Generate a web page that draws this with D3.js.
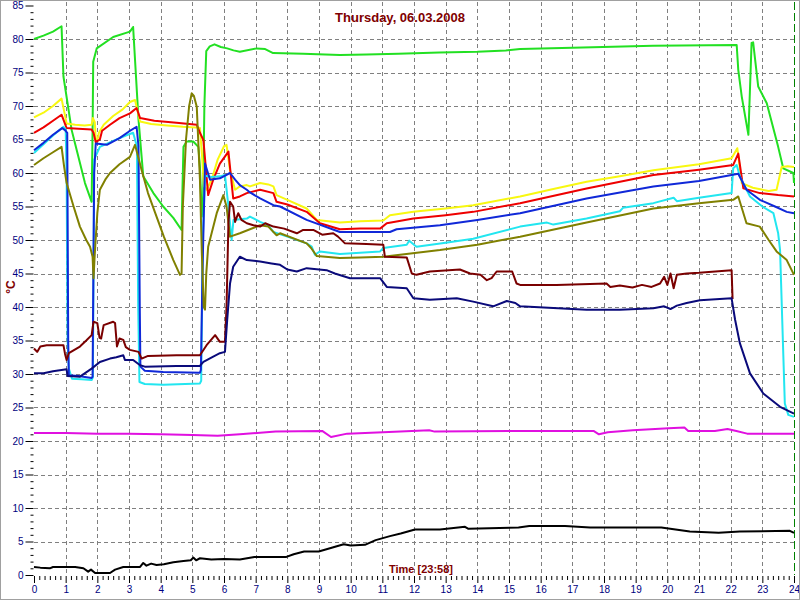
<!DOCTYPE html>
<html><head><meta charset="utf-8">
<script src="https://cdn.jsdelivr.net/npm/d3@7"></script>
<style>
html,body{margin:0;padding:0;background:#fff;}
svg{display:block;}
text{font-family:"Liberation Sans",Arial,sans-serif;}
</style></head>
<body><svg id="c" width="800" height="600"></svg>
<script>
// ---- data (hours, °C) ----
const titleText = "Thursday, 06.03.2008";
const xLabel = "Time [23:58]";
const yLabel = "°C";
const xTicks = d3.range(0, 25);
const yTicks = d3.range(0, 90, 5);

const greenT = [0,0.3,0.6,0.87,0.93,1.19,1.35,1.61,1.82,1.85,1.87,1.98,2.5,3.03,3.13,3.3,3.45,3.77,4.08,4.4,4.66,4.69,4.72,4.82,5.03,5.19,5.24,5.3,5.34,5.38,5.44,5.55,5.7,5.9,6.1,6.3,6.5,7.03,7.3,7.55,8.5,9.66,10.5,11.5,12.8,14,14.9,15.35,17,19.55,22.19,22.24,22.35,22.56,22.66,22.71,22.87,23.14,23.5,23.66,23.98,24];
const greenV = [80,80.5,81.1,81.9,74.4,66.4,63.4,58.5,55.7,66.4,76.6,78.6,80.3,81.1,81.8,68,59.5,57,55,53.3,51.5,58,63.9,64.7,64.7,63.9,60.9,53.5,56,70,78.2,78.9,79.2,78.8,78.6,78.3,78.1,78.6,78.5,77.9,77.8,77.6,77.7,77.8,78.0,78.1,78.3,78.5,78.7,79,79.1,75.4,71.4,65.7,79.4,79.5,72.9,70.4,63.9,60.7,60,58.5];

const yellowT = [0,0.3,0.6,0.87,1.03,1.3,1.6,1.82,1.86,1.92,1.95,2.0,2.05,2.2,2.5,2.8,3.03,3.19,3.35,3.7,4.2,4.7,5.1,5.24,5.3,5.37,5.45,5.61,5.8,6.0,6.08,6.19,6.35,6.5,6.72,6.82,7.14,7.4,7.56,7.66,8.0,8.61,8.93,9.66,10.3,11.03,11.24,11.98,13,13.87,15.35,16.4,17.45,18.5,19.56,21,22.03,22.21,22.35,22.7,23.2,23.45,23.61,23.8,24];
const yellowV = [68.3,69,70,71.1,67.4,67.2,67.1,67.2,68.2,67.6,65,64.8,66,67.2,68.5,69.5,70.6,70.9,67.7,67.3,67.1,66.9,66.8,66.7,63,58,57.5,59,62,64,64.2,60.4,57.5,58,58.2,58,58.5,58.3,58,56.7,56,54.7,53,52.6,52.8,52.9,53.7,54.2,54.7,55.2,56.5,57.6,58.7,59.5,60.4,61.3,62.2,63.7,58.5,57.8,57.3,57.5,60.9,61,60.9];

const redT = [0,0.3,0.6,0.87,1.03,1.4,1.82,1.88,1.95,2.08,2.15,2.4,2.7,3.03,3.24,3.35,3.8,4.5,5.14,5.24,5.35,5.5,5.66,5.87,6.14,6.29,6.5,6.72,7.14,7.56,7.66,8.0,8.61,9.03,9.66,10.3,10.93,11.14,11.98,13,13.87,15.35,17.45,19.56,21,22.08,22.24,22.4,22.92,23.5,24];
const redV = [66,66.8,67.8,68.7,66.7,66.6,66.5,66,64.6,65,66.3,67.2,68.2,68.9,69.7,68.2,67.8,67.5,67.2,66,64.9,56.7,59,61.4,63.2,56.2,56.5,57,57.5,57,55.7,55.3,54.2,52.5,51.6,51.7,51.7,52.5,53.2,53.7,54.2,55.5,57.7,59.7,60.5,61.2,62.9,57.7,57,56.7,56.5];

const cyanT = [0,0.3,0.6,0.93,1.0,1.03,1.06,1.1,1.2,1.5,1.82,1.86,1.9,2.08,2.5,2.9,3.13,3.25,3.29,3.33,3.5,4.08,5.24,5.28,5.33,5.4,5.6,5.87,6.03,6.14,6.24,6.3,6.72,6.82,7.14,7.4,7.56,8.0,8.61,8.77,8.87,9.03,9.66,10.3,10.93,11.03,11.77,11.85,12.0,12.08,13,13.87,15.35,16.2,16.4,17.45,18.5,18.6,19.56,20.2,20.3,21,22.03,22.08,22.19,22.29,22.61,23.0,23.35,23.5,23.56,23.71,23.82,24];
const cyanV = [63,64.3,65.6,66.9,66.5,60,35,30.8,29.3,29.2,29.1,29.5,62,63.9,64.8,65.6,66,64,40,28.8,28.5,28.4,28.6,29,50,59.6,59.4,59.5,59.7,55,50,53,53.2,53.5,52.7,52.2,51.2,50.5,49.5,49,47.8,48.3,47.9,48.1,48.3,48.8,49.3,49.9,49.3,49,49.6,50.2,52,52.6,52.3,53.2,54.3,54.8,55.5,56.3,55.8,56.3,57,60.7,61.2,59.5,56.5,55,54,51,48.5,25.6,23.9,23.6];

const blueT = [0,0.3,0.6,0.89,0.98,1.05,1.08,1.1,1.4,1.82,1.85,1.9,1.95,2.3,2.7,3.0,3.24,3.3,3.34,3.36,3.5,4.08,5.24,5.27,5.32,5.4,5.56,5.87,6.19,6.35,6.5,6.72,6.82,7.14,7.56,7.77,8.61,9.66,10.5,11.24,11.45,12.82,14,15.35,17.45,19.56,21,22.24,22.5,22.92,23.4,23.77,24];
const blueV = [63.4,64.5,65.7,66.7,66.4,66,35,29.8,29.7,29.4,29.6,60,64.4,64.2,65.2,66.2,66.9,64,40,31.1,30.5,30.3,30.2,30.6,45,61.4,59,59.2,60,59,58.2,57.5,57.1,56.2,55.2,55,53,51.2,51.2,51.2,51.6,52.2,53,54,56.2,58,58.8,59.9,57.5,56,55,54.2,54];

const oliveT = [0,0.3,0.6,0.87,0.95,1.03,1.25,1.45,1.65,1.77,1.85,1.88,1.92,2.0,2.08,2.25,2.4,2.7,3.03,3.19,3.4,3.6,3.87,4.1,4.4,4.61,4.66,4.7,4.8,4.9,4.98,5.05,5.14,5.24,5.3,5.36,5.4,5.44,5.5,5.77,5.98,6.08,6.19,6.5,7.14,7.4,7.66,7.77,8.61,8.75,8.93,9.66,10.3,11.03,12.82,14,15.35,17.45,19.56,21,22.08,22.24,22.5,22.92,23.2,23.45,23.77,24];
const oliveV = [61.2,62.2,63.1,63.9,61,58.5,55,52,50,49,47.5,44.3,48,54,57.5,59,60,61.3,62.4,64.2,60.4,57,53.5,50.5,47,44.8,45,55,65,70,71.9,71.5,69.9,59,48,40,39.6,45,49,54,56.7,55,50.5,51,52.2,52,50.7,51,49.5,48.8,47.6,47.3,47.4,47.5,48.5,49.3,50.5,52.6,54.7,55.5,56,56.5,52.5,52,50,48.3,47,44.8];

const maroonT = [0,0.1,0.2,0.4,0.93,0.98,1.03,1.1,1.45,1.65,1.82,1.88,2.0,2.07,2.12,2.2,2.5,2.56,2.62,2.7,2.82,2.9,3.03,3.3,3.4,3.6,4.5,5.24,5.45,5.72,5.87,6.03,6.08,6.14,6.19,6.29,6.35,6.45,6.55,6.72,6.93,7.14,7.3,7.56,7.9,8.3,8.5,8.82,9.1,9.45,9.6,9.82,10.5,11.03,11.08,11.77,11.93,12.08,12.5,13.45,13.77,14.1,14.3,14.45,14.61,15.1,15.24,15.35,16.5,18.08,18.2,18.5,18.9,19.2,19.5,19.77,19.9,20.0,20.1,20.2,20.3,20.61,21.0,22.03,22.06];
const maroonV = [33.8,33.3,34.1,34.3,34.3,33,32.1,33.1,34.1,35,35.8,37.8,37.6,35.4,35.3,37.3,37.8,37.6,34.1,35.3,35.1,34,33.6,33.3,32.3,32.7,32.8,32.8,34.3,35.8,34.8,34.8,40,52.5,55.7,55,52.7,54,53,52.5,52.2,52,52.5,52,51.7,51,51.5,51.5,50.8,51,50.5,49.5,49.4,49.3,47.5,47.4,45,44.8,45.3,45.6,45,44.8,44,44.3,45.3,45.3,43.5,43.3,43.3,43.5,43,43.2,42.9,43.3,43,43.5,44.5,43.3,45,42.8,44.8,45,45.1,45.5,41.2];

const navyT = [0,0.3,0.6,1.03,1.06,1.45,1.82,2.08,2.4,2.6,2.82,2.87,3.13,3.35,3.5,4.5,5.24,5.35,5.66,5.87,6.03,6.1,6.19,6.29,6.5,6.72,7.14,7.5,7.77,8.0,8.3,8.61,9.24,9.5,9.98,10.93,11.14,11.77,11.98,12.5,13.35,13.87,14.5,14.93,15.2,15.35,17.45,18.5,19.56,19.9,20.1,20.3,20.61,21.03,22.03,22.14,22.29,22.61,23.03,23.56,24];
const navyV = [30.1,30.1,30.4,30.7,29.7,29.6,30.8,31.8,32.3,32.5,32.8,32.1,32.1,31.3,31.1,31.2,31.2,31.8,32.6,33.1,33.3,38,43.5,46,47.5,47,46.8,46.5,46.3,45.6,45.3,45.8,45.5,45,44.3,44.3,43,42.8,41.3,41.1,41.3,40.8,40.1,40.9,40.6,40.1,39.6,39.6,39.8,40.1,39.7,40.2,40.6,41,41.3,38.1,34.6,30.1,27.1,25.1,24.1];

const magentaT = [0,1,2,3,4,5,5.8,6.5,7.63,9.1,9.38,9.89,11.02,12.48,12.65,15,17.67,17.84,18.12,18.91,20.04,20.54,20.66,21.5,21.9,22.18,22.52,24];
const magentaV = [21.2,21.2,21.1,21.1,21,20.9,20.8,21,21.4,21.5,20.6,21.1,21.3,21.6,21.4,21.5,21.5,21,21.3,21.6,21.9,22,21.5,21.5,21.8,21.5,21.1,21.1];

const blackT = [0,0.2,0.5,0.6,1.03,1.3,1.56,1.71,1.8,1.93,2.4,2.56,2.82,3.35,3.45,3.55,3.7,3.87,4.1,4.4,4.72,4.95,5.03,5.12,5.24,5.6,6.0,6.5,6.96,7.97,8.2,8.53,8.99,9.21,9.78,10,10.45,10.79,11.24,11.58,12.03,12.82,13.61,13.72,15.3,15.64,16.77,17.56,19.81,20.71,21.62,22.29,23.87,24];
const blackV = [1.2,1.1,1.0,1.2,1.2,1.2,1.0,0.5,0.8,0.3,0.3,0.8,1.2,1.2,1.8,1.4,1.7,1.5,1.6,1.9,2.1,2.2,2.6,2.2,2.5,2.3,2.4,2.3,2.7,2.7,3.1,3.5,3.5,3.8,4.6,4.4,4.5,5.2,5.8,6.2,6.8,6.8,7.2,6.9,7.1,7.3,7.3,7.1,7.1,6.5,6.3,6.5,6.6,6.3];

const seriesT = [greenT, yellowT, redT, cyanT, blueT, oliveT, maroonT, navyT, magentaT, blackT];
const seriesV = [greenV, yellowV, redV, cyanV, blueV, oliveV, maroonV, navyV, magentaV, blackV];
const seriesColors = ["#22e022","#f8f810","#ee0000","#22e6f0","#1028d8","#808000","#7a0000","#0a0a7a","#e010e0","#000000"];

// ---- drawing ----
const svg = d3.select("#c");
const x = d3.scaleLinear().domain([0,24]).range([34,794]);
const y = d3.scaleLinear().domain([0,85]).range([575,5.5]);

svg.append("rect").attr("x",0).attr("y",0).attr("width",800).attr("height",600).attr("fill","#fff");

// grid
svg.append("g").selectAll("line").data(yTicks.filter(v=>v>0 && v<85)).join("line")
  .attr("x1",x(0)).attr("x2",x(24)).attr("y1",d=>Math.round(y(d))+0.5).attr("y2",d=>Math.round(y(d))+0.5)
  .attr("stroke","#808080").attr("stroke-dasharray","4,3");
svg.append("g").selectAll("line").data(xTicks.filter(v=>v>0 && v<24)).join("line")
  .attr("x1",d=>Math.round(x(d))+0.5).attr("x2",d=>Math.round(x(d))+0.5).attr("y1",2).attr("y2",y(0))
  .attr("stroke","#808080").attr("stroke-dasharray","4,3");
svg.append("line").attr("x1",Math.round(x(24))+0.5).attr("x2",Math.round(x(24))+0.5).attr("y1",2).attr("y2",y(0))
  .attr("stroke","#008000").attr("stroke-dasharray","8,3");

// axes
const yAxisMajor = d3.axisLeft(y).tickValues(yTicks).tickSize(8).tickPadding(2);
const gy = svg.append("g").attr("transform","translate(33.5,0)").call(yAxisMajor);
gy.select(".domain").remove();
gy.selectAll("line").attr("stroke","#000");
gy.selectAll("text").attr("fill","#000080").attr("font-size","10px").attr("font-family","Liberation Sans, Arial, sans-serif");
const gy2 = svg.append("g").attr("transform","translate(33.5,0)").call(d3.axisLeft(y).tickValues(d3.range(0,86,1).filter(v=>v%5)).tickSize(3).tickFormat(""));
gy2.select(".domain").remove();
gy2.selectAll("line").attr("stroke","#000");

const xAxisMajor = d3.axisBottom(x).tickValues(xTicks).tickSize(7).tickPadding(3).tickFormat(d3.format("d"));
const gx = svg.append("g").attr("transform","translate(0,576)").call(xAxisMajor);
gx.select(".domain").remove();
gx.selectAll("line").attr("stroke","#000");
gx.selectAll("text").attr("fill","#000080").attr("font-size","10px").attr("font-family","Liberation Sans, Arial, sans-serif");
const gx2 = svg.append("g").attr("transform","translate(0,576)").call(d3.axisBottom(x).tickValues(d3.range(0,24*6+1).filter(i=>i%6).map(i=>i/6)).tickSize(4).tickFormat(""));
gx2.select(".domain").remove();
gx2.selectAll("line").attr("stroke","#000");

// lines
const line = d3.line().x(d=>x(d[0])).y(d=>y(d[1]));
seriesT.forEach((ts,i)=>{
  const pts = ts.map((t,j)=>[t, seriesV[i][j]]);
  svg.append("path").datum(pts).attr("d",line).attr("fill","none")
    .attr("stroke",seriesColors[i]).attr("stroke-width",2).attr("stroke-linejoin","round");
});

// texts
svg.append("text").attr("x",400).attr("y",22).attr("text-anchor","middle")
  .attr("font-size","13px").attr("font-weight","bold").attr("fill","#800000").text(titleText);
svg.append("text").attr("x",421).attr("y",573).attr("text-anchor","middle")
  .attr("font-size","11px").attr("font-weight","bold").attr("fill","#800000").text(xLabel);
svg.append("text").attr("transform","translate(15,287) rotate(-90)").attr("text-anchor","middle")
  .attr("font-size","12px").attr("font-weight","bold").attr("fill","#800000").text(yLabel);

// border
svg.append("rect").attr("x",0.5).attr("y",0.5).attr("width",799).attr("height",599)
  .attr("fill","none").attr("stroke","#a0a0a0");
</script></body></html>
